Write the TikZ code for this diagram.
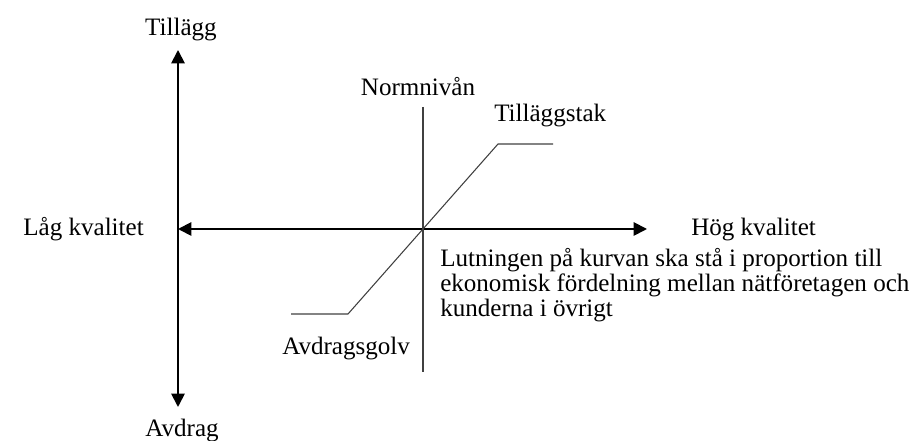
\documentclass[tikz,border=0pt]{standalone}
\usepackage{fontspec}
\setmainfont{Liberation Serif}
\usetikzlibrary{arrows.meta, positioning}

\tikzset{
    axisline/.style={line width=1.4pt, {Triangle[width=10pt, length=10pt]}-{Triangle[width=10pt, length=10pt]}},
    curveline/.style={line width=0.8pt, black!75},
    lbl/.style={inner sep=0pt, anchor=base, font=\fontsize{18.8}{19}\selectfont}
}

\begin{document}
\begin{tikzpicture}[x=0.75pt, y=-0.75pt]

        \def\axisx{178}
        \def\axisy{229}
        \def\normx{423}

        \useasboundingbox (0,0) rectangle (915,441);

        % axes
        \coordinate (ytop) at (\axisx, 50);
        \coordinate (ybot) at (\axisx, 407);
        \coordinate (xleft) at (\axisx, \axisy);
        \coordinate (xright) at (647, \axisy);
        \draw[axisline] (ybot) -- (ytop);
        \draw[axisline] (xleft) -- (xright);

        \node[lbl] (tillagg) at (181, 36) {Tillägg};
        \node[lbl] (avdrag) at (182, 437) {Avdrag};
        \node[lbl, anchor=base east] (lag) at (144, 236) {Låg kvalitet};
        \node[lbl, anchor=base west] (hog) at (691, 236) {Hög kvalitet};

        % normnivan
        \coordinate (normtop) at (\normx, 107);
        \coordinate (normbot) at (\normx, 372);
        \draw[curveline] (normtop) -- (normbot);
        \node[lbl] (norm) at (418, 96) {Normnivån};

        % kurvan
        \coordinate (golvstart) at (291, 314);
        \coordinate (golv) at (348, 314);
        \coordinate (tak) at (498, 144);
        \coordinate (takslut) at (553, 144);
        \draw[curveline] (golvstart) -- (golv) -- (tak) -- (takslut);
        \node[lbl, anchor=base west] (taklbl) at (494, 122) {Tilläggstak};
        \node[lbl, anchor=base west] (golvlbl) at (282, 355) {Avdragsgolv};

        % base anchor sits on the last line here
        \node[lbl, anchor=base west, align=left] (lutning) at (440, 317)
            {Lutningen på kurvan ska stå i proportion till\\
             ekonomisk fördelning mellan nätföretagen och\\
             kunderna i övrigt};

    \end{tikzpicture}
\end{document}
